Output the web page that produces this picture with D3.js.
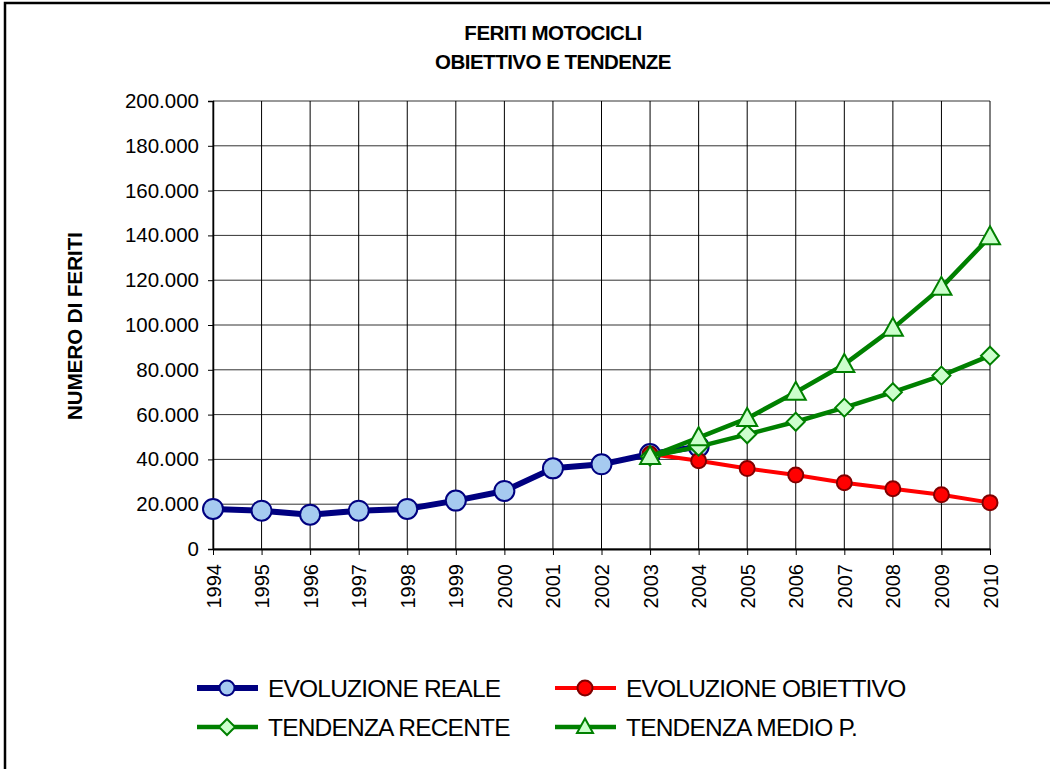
<!DOCTYPE html>
<html>
<head>
<meta charset="utf-8">
<script src="https://cdn.jsdelivr.net/npm/d3@7"></script>
<style>
  body { margin: 0; background: #fff; }
  svg { display: block; font-family: "Liberation Sans", Arial, sans-serif; }
</style>
</head>
<body>
<svg id="chart" width="1050" height="769"></svg>
<script>
let years = ["1994", "1995", "1996", "1997", "1998", "1999", "2000", "2001", "2002",
    "2003", "2004", "2005", "2006", "2007", "2008", "2009", "2010"];

// valori
let reale = [17900, 17100, 15300, 17100, 17900, 21600, 25900, 36000, 37800, 42400, 45700];
let obiettivo = [42400, 39400, 35900, 33000, 29600, 26900, 24200, 20700];
let recente = [41300, 45700, 51200, 56800, 63100, 70000, 77400, 86300];
let medio = [41300, 49700, 58300, 70000, 82400, 98500, 116800, 139400];

let yTicks = [0, 20000, 40000, 60000, 80000, 100000, 120000, 140000, 160000, 180000, 200000];

let margin = {left: 213, right: 990, top: 101, bottom: 549};

let svg = d3.select("#chart");

// cornice
svg.append("rect")
    .attr("x", 5).attr("y", 3)
    .attr("width", 1100).attr("height", 800)
    .attr("fill", "#fff")
    .attr("stroke", "#000")
    .attr("stroke-width", 2.5);

let x = d3.scalePoint()
    .domain(years)
    .range([margin.left, margin.right]);

let y = d3.scaleLinear()
    .domain([0, 200000])
    .range([margin.bottom, margin.top]);

let fmt = d => d === 0 ? "0" : d3.format(",")(d).replace(/,/g, ".");

// griglia
svg.append("g")
    .selectAll("line")
    .data(yTicks)
    .join("line")
    .attr("x1", margin.left).attr("x2", margin.right)
    .attr("y1", d => y(d)).attr("y2", d => y(d))
    .attr("stroke", "#333")
    .attr("stroke-width", 1);

svg.append("g")
    .selectAll("line")
    .data(years)
    .join("line")
    .attr("x1", d => x(d)).attr("x2", d => x(d))
    .attr("y1", margin.top).attr("y2", margin.bottom)
    .attr("stroke", "#000")
    .attr("stroke-width", 1);

// assi
let yAxis = svg.append("g")
    .attr("transform", `translate(${margin.left},0)`)
    .call(d3.axisLeft(y).tickValues(yTicks).tickFormat(fmt).tickSize(5).tickPadding(9));
yAxis.select(".domain").attr("stroke", "#000").attr("stroke-width", 1.5);
yAxis.selectAll("text").attr("font-size", 20.5).attr("fill", "#000")
    .attr("font-family", "Liberation Sans, Arial, sans-serif");

let xAxis = svg.append("g")
    .attr("transform", `translate(0,${margin.bottom})`)
    .call(d3.axisBottom(x).tickSize(6).tickSizeOuter(0));
xAxis.select(".domain").attr("stroke", "#000").attr("stroke-width", 2);
xAxis.selectAll("text")
    .attr("font-size", 20)
    .attr("fill", "#000")
    .attr("font-family", "Liberation Sans, Arial, sans-serif")
    .attr("text-anchor", "end")
    .attr("transform", "rotate(-90)")
    .attr("x", -15)
    .attr("y", 0)
    .attr("dy", "0.35em");

// titoli
let title = svg.append("text")
    .attr("text-anchor", "middle")
    .attr("font-weight", "bold")
    .attr("font-size", 20.5)
    .attr("letter-spacing", -0.5);
title.append("tspan").attr("x", 553).attr("y", 40).text("FERITI MOTOCICLI");
title.append("tspan").attr("x", 553).attr("y", 69).text("OBIETTIVO E TENDENZE");

svg.append("text")
    .attr("transform", "translate(82,326) rotate(-90)")
    .attr("text-anchor", "middle")
    .attr("font-weight", "bold")
    .attr("font-size", 20.5)
    .text("NUMERO DI FERITI");

let line = d3.line()
    .x(d => x(d[0]))
    .y(d => y(d[1]));

let series = [
    {name: "EVOLUZIONE REALE", start: 0, values: reale, color: "#000080", width: 6,
        marker: "circle", size: 10, fill: "#a6caf0", mstroke: "#000080"},
    {name: "EVOLUZIONE OBIETTIVO", start: 9, values: obiettivo, color: "#ff0000", width: 4,
        marker: "circle", size: 7.5, fill: "#ff0000", mstroke: "#800000"},
    {name: "TENDENZA RECENTE", start: 9, values: recente, color: "#008000", width: 4.5,
        marker: "diamond", size: 9, fill: "#ccffcc", mstroke: "#008000"},
    {name: "TENDENZA MEDIO P.", start: 9, values: medio, color: "#008000", width: 4.5,
        marker: "triangle", size: 10, fill: "#ccffcc", mstroke: "#008000"}
];

function markerPath(type, s) {
    if (type === "diamond") return `M0,${-s}L${s},0L0,${s}L${-s},0Z`;
    if (type === "triangle") return `M0,${-s * 1.05}L${s},${s * 0.75}L${-s},${s * 0.75}Z`;
    return null;
}

function drawMarker(g, s, cx, cy) {
    if (s.marker === "circle") {
        g.append("circle")
            .attr("cx", cx).attr("cy", cy).attr("r", s.size)
            .attr("fill", s.fill).attr("stroke", s.mstroke).attr("stroke-width", 2);
    } else {
        g.append("path")
            .attr("transform", `translate(${cx},${cy})`)
            .attr("d", markerPath(s.marker, s.size))
            .attr("fill", s.fill).attr("stroke", s.mstroke).attr("stroke-width", 2);
    }
}

series.forEach(function (s) {
    let pts = s.values.map((v, i) => [years[s.start + i], v]);
    let g = svg.append("g");
    g.append("path")
        .attr("d", line(pts))
        .attr("fill", "none")
        .attr("stroke", s.color)
        .attr("stroke-width", s.width)
        .attr("stroke-linejoin", "round");
    pts.forEach(p => drawMarker(g, s, x(p[0]), y(p[1])));
});

// legenda
let legendPos = [[197, 688], [555, 688], [197, 727], [555, 727]];
series.forEach(function (s, i) {
    let [lx, ly] = legendPos[i];
    let g = svg.append("g");
    g.append("line")
        .attr("x1", lx).attr("x2", lx + 61)
        .attr("y1", ly).attr("y2", ly)
        .attr("stroke", s.color)
        .attr("stroke-width", s.width);
    drawMarker(g, Object.assign({}, s, {size: s.marker === "circle" ? 7.5 : 8}), lx + 30, ly);
    g.append("text")
        .attr("x", lx + 71).attr("y", ly)
        .attr("dy", "0.36em")
        .attr("font-size", 24.5)
        .attr("letter-spacing", -0.8)
        .text(s.name);
});
</script>
</body>
</html>
